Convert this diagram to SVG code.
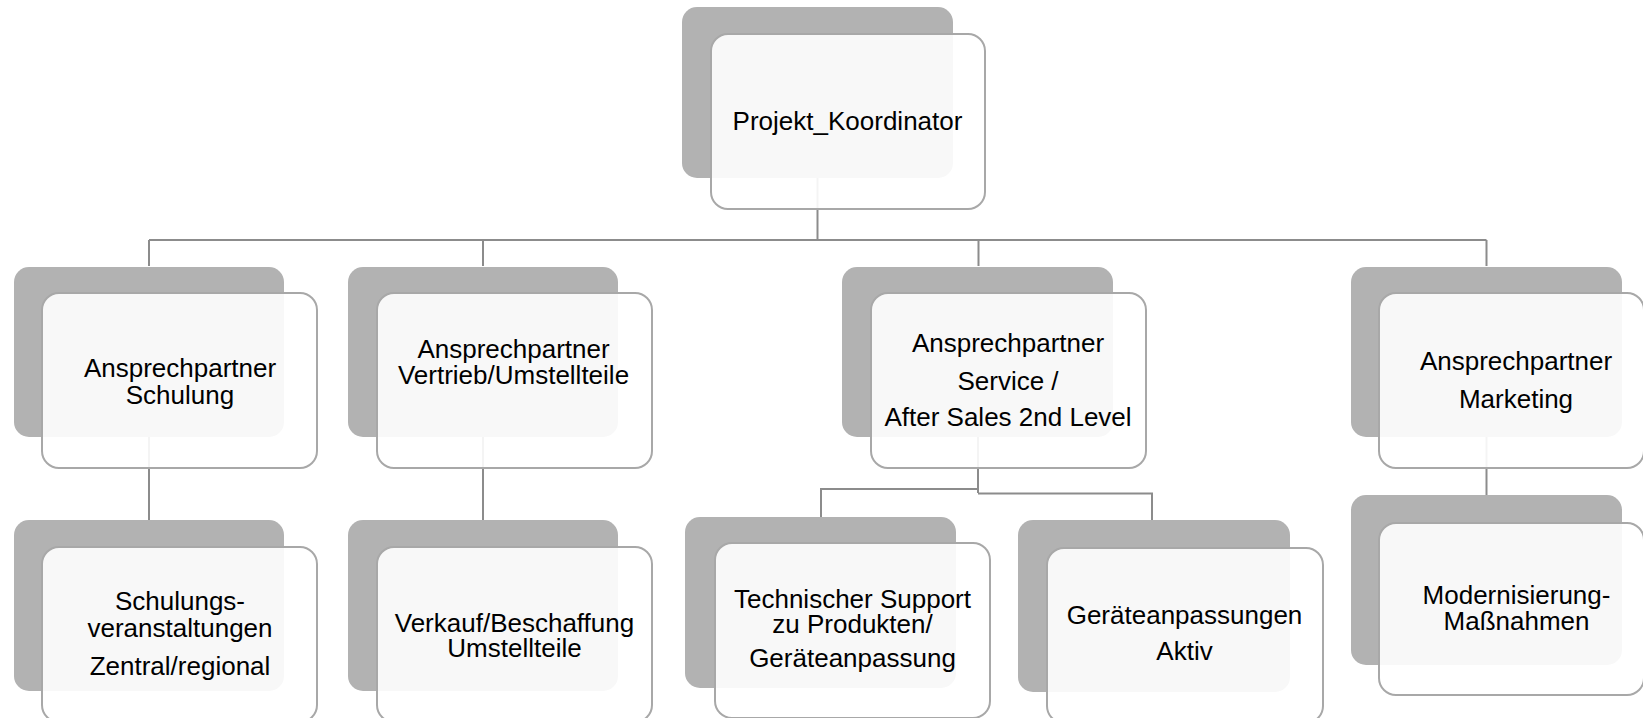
<svg xmlns="http://www.w3.org/2000/svg" width="1643" height="718" viewBox="0 0 1643 718">
<style>
.bg{fill:#ffffff}
.sh{fill:#b2b2b2}
.fr{fill:#ffffff;fill-opacity:0.9;stroke:#a8a8a8;stroke-width:2}
.cn{fill:none;stroke:#8c8c8c;stroke-width:2}
text{font-family:"Liberation Sans",Arial,sans-serif;font-size:26px;fill:#000;text-anchor:middle}
</style>
<rect class="bg" x="0" y="0" width="1643" height="718"/>
<g id="connectors">
<path class="cn" d="M817.5 178 V240"/>
<path class="cn" d="M149 240 H1486.5"/>
<path class="cn" d="M149 240 V266 M483 240 V266 M978.5 240 V266 M1486.5 240 V266"/>
<path class="cn" d="M149 437 V520"/>
<path class="cn" d="M483 437 V520"/>
<path class="cn" d="M978 437 V493"/>
<path class="cn" d="M978 489 H821 V517"/>
<path class="cn" d="M978 493.5 H1152 V520"/>
<path class="cn" d="M1486.5 437 V495"/>
</g>
<g id="n-projekt">
<rect class="sh" x="682" y="7" width="271" height="171" rx="15"/>
<rect class="fr" x="711" y="34" width="274" height="175" rx="17"/>
<text x="847.5" y="130">Projekt_Koordinator</text>
</g>
<g id="n-schulung">
<rect class="sh" x="14" y="267" width="270" height="170" rx="15"/>
<rect class="fr" x="42" y="293" width="275" height="175" rx="17"/>
<text x="180" y="377">Ansprechpartner</text>
<text x="180" y="403.5">Schulung</text>
</g>
<g id="n-vertrieb">
<rect class="sh" x="348" y="267" width="270" height="170" rx="15"/>
<rect class="fr" x="377" y="293" width="275" height="175" rx="17"/>
<text x="513.5" y="357.5">Ansprechpartner</text>
<text x="513.5" y="383.5">Vertrieb/Umstellteile</text>
</g>
<g id="n-service">
<rect class="sh" x="842" y="267" width="271" height="170" rx="15"/>
<rect class="fr" x="871" y="293" width="275" height="175" rx="17"/>
<text x="1008" y="352">Ansprechpartner</text>
<text x="1008" y="389.5">Service /</text>
<text x="1008" y="426">After Sales 2nd Level</text>
</g>
<g id="n-marketing">
<rect class="sh" x="1351" y="267" width="271" height="170" rx="15"/>
<rect class="fr" x="1379" y="293" width="265" height="175" rx="17"/>
<text x="1516" y="370">Ansprechpartner</text>
<text x="1516" y="407.5">Marketing</text>
</g>
<g id="n-schulungs">
<rect class="sh" x="14" y="520" width="270" height="171" rx="15"/>
<rect class="fr" x="42" y="547" width="275" height="175" rx="17"/>
<text x="180" y="610">Schulungs-</text>
<text x="180" y="637">veranstaltungen</text>
<text x="180" y="675">Zentral/regional</text>
</g>
<g id="n-verkauf">
<rect class="sh" x="348" y="520" width="270" height="171" rx="15"/>
<rect class="fr" x="377" y="547" width="275" height="175" rx="17"/>
<text x="514.5" y="632">Verkauf/Beschaffung</text>
<text x="514.5" y="657">Umstellteile</text>
</g>
<g id="n-technischer">
<rect class="sh" x="685" y="517" width="271" height="171" rx="15"/>
<rect class="fr" x="715" y="543" width="275" height="175" rx="17"/>
<text x="852.5" y="608">Technischer Support</text>
<text x="852.5" y="633">zu Produkten/</text>
<text x="852.5" y="667">Geräteanpassung</text>
</g>
<g id="n-geraete">
<rect class="sh" x="1018" y="520" width="272" height="172" rx="15"/>
<rect class="fr" x="1047" y="548" width="276" height="175" rx="17"/>
<text x="1184.5" y="623.5">Geräteanpassungen</text>
<text x="1184.5" y="660">Aktiv</text>
</g>
<g id="n-modernisierung">
<rect class="sh" x="1351" y="495" width="271" height="170" rx="15"/>
<rect class="fr" x="1379" y="523" width="265" height="172" rx="17"/>
<text x="1516.5" y="603.5">Modernisierung-</text>
<text x="1516.5" y="630">Maßnahmen</text>
</g>
</svg>
